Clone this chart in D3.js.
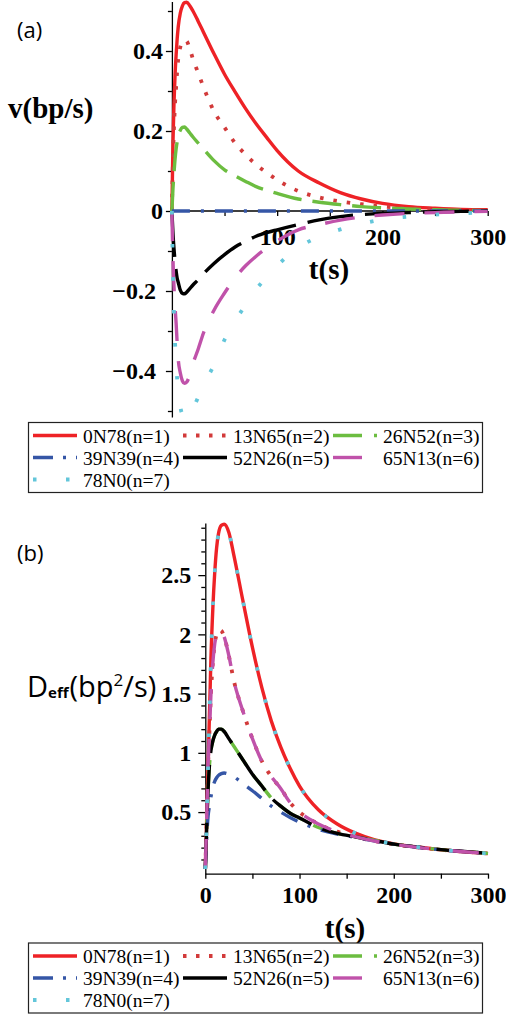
<!DOCTYPE html>
<html>
<head>
<meta charset="utf-8">
<script src="https://cdn.jsdelivr.net/npm/d3@7"></script>
<style>
  body { margin: 0; background: #fff; }
  svg { display: block; }
</style>
</head>
<body>
<script>
// sample times (s)
const times = [0, 1, 2, 3, 4, 5, 6, 8, 10, 12, 14, 17, 20, 25, 30, 40, 50, 60, 70, 80, 90, 100, 120, 140, 160, 180, 200, 225, 250, 275, 300];

const seriesNames = ["0N78(n=1)", "13N65(n=2)", "26N52(n=3)", "39N39(n=4)", "52N26(n=5)", "65N13(n=6)", "78N0(n=7)"];

// panel (a): v (bp/s)
const v1 = [0, 0.17, 0.27, 0.34, 0.39, 0.43, 0.46, 0.495, 0.513, 0.521, 0.522, 0.513, 0.5, 0.474, 0.447, 0.393, 0.342, 0.298, 0.256, 0.218, 0.184, 0.151, 0.1, 0.07, 0.046, 0.03, 0.019, 0.011, 0.007, 0.004, 0.003];
const v2 = [0, 0.13, 0.21, 0.27, 0.31, 0.35, 0.38, 0.41, 0.423, 0.427, 0.425, 0.405, 0.38, 0.345, 0.31, 0.249, 0.209, 0.17, 0.141, 0.116, 0.096, 0.078, 0.05, 0.034, 0.024, 0.017, 0.011, 0.007, 0.004, 0.002, 0.001];
const v3 = [0, 0.055, 0.095, 0.13, 0.155, 0.173, 0.187, 0.202, 0.209, 0.21, 0.205, 0.195, 0.185, 0.17, 0.155, 0.126, 0.103, 0.088, 0.074, 0.061, 0.052, 0.044, 0.03, 0.022, 0.016, 0.011, 0.008, 0.005, 0.003, 0.002, 0.001];
const v4 = [0, 0, 0, 0, 0, 0, 0, 0, 0, 0, 0, 0, 0, 0, 0, 0, 0, 0, 0, 0, 0, 0, 0, 0, 0, 0, 0, 0, 0, 0, 0];
const v5 = [0, -0.055, -0.095, -0.125, -0.15, -0.168, -0.178, -0.198, -0.206, -0.207, -0.203, -0.194, -0.185, -0.172, -0.157, -0.131, -0.109, -0.09, -0.076, -0.063, -0.054, -0.047, -0.034, -0.022, -0.014, -0.009, -0.006, -0.004, -0.002, -0.001, 0];
const v6 = [0, -0.12, -0.19, -0.24, -0.28, -0.33, -0.37, -0.405, -0.425, -0.431, -0.428, -0.41, -0.382, -0.345, -0.305, -0.248, -0.205, -0.167, -0.137, -0.113, -0.093, -0.075, -0.047, -0.034, -0.023, -0.015, -0.01, -0.006, -0.004, -0.002, -0.001];
const v7 = [0, -0.16, -0.26, -0.33, -0.38, -0.42, -0.45, -0.49, -0.51, -0.52, -0.52, -0.51, -0.495, -0.465, -0.435, -0.385, -0.322, -0.275, -0.235, -0.196, -0.166, -0.137, -0.092, -0.064, -0.046, -0.032, -0.021, -0.014, -0.009, -0.006, -0.003];

// panel (b): Deff (bp^2/s)
const d1 = [0.02, 0.3, 0.6, 0.9, 1.2, 1.5, 1.8, 2.22, 2.52, 2.73, 2.85, 2.92, 2.93, 2.86, 2.68, 2.28, 1.89, 1.55, 1.27, 1.05, 0.87, 0.72, 0.52, 0.4, 0.32, 0.265, 0.232, 0.205, 0.182, 0.165, 0.15];
const d2 = [0.02, 0.3, 0.6, 0.9, 1.1, 1.3, 1.5, 1.76, 1.92, 2.0, 2.04, 2.03, 1.98, 1.82, 1.62, 1.35, 1.12, 0.93, 0.8, 0.7, 0.58, 0.5, 0.4, 0.335, 0.29, 0.255, 0.228, 0.202, 0.182, 0.165, 0.15];
const d3v = [0.02, 0.25, 0.5, 0.7, 0.85, 0.95, 1.02, 1.1, 1.15, 1.18, 1.2, 1.2, 1.18, 1.12, 1.06, 0.94, 0.82, 0.72, 0.62, 0.55, 0.49, 0.45, 0.37, 0.32, 0.29, 0.26, 0.23, 0.205, 0.183, 0.167, 0.152];
const d4 = [0.02, 0.2, 0.36, 0.47, 0.53, 0.58, 0.63, 0.71, 0.76, 0.79, 0.81, 0.825, 0.83, 0.82, 0.8, 0.74, 0.68, 0.615, 0.55, 0.5, 0.455, 0.415, 0.355, 0.315, 0.285, 0.255, 0.23, 0.203, 0.182, 0.166, 0.152];
const d5 = [0.02, 0.25, 0.5, 0.7, 0.85, 0.95, 1.02, 1.1, 1.15, 1.18, 1.2, 1.2, 1.18, 1.12, 1.06, 0.94, 0.82, 0.72, 0.62, 0.55, 0.49, 0.45, 0.37, 0.32, 0.29, 0.26, 0.23, 0.205, 0.183, 0.167, 0.152];
const d6 = [0.02, 0.3, 0.6, 0.9, 1.1, 1.3, 1.5, 1.76, 1.92, 2.0, 2.04, 2.03, 1.98, 1.82, 1.62, 1.35, 1.12, 0.93, 0.8, 0.7, 0.58, 0.5, 0.4, 0.335, 0.29, 0.255, 0.228, 0.202, 0.182, 0.165, 0.15];
const d7 = [0.02, 0.3, 0.6, 0.9, 1.2, 1.5, 1.8, 2.22, 2.52, 2.73, 2.85, 2.92, 2.93, 2.86, 2.68, 2.28, 1.89, 1.55, 1.27, 1.05, 0.87, 0.72, 0.52, 0.4, 0.32, 0.265, 0.232, 0.205, 0.182, 0.165, 0.15];

const vSeries = [v1, v2, v3, v4, v5, v6, v7];
const dSeries = [d1, d2, d3v, d4, d5, d6, d7];

// ticks
const tTicks = [100, 200, 300];
const tMinor = [50, 100, 150, 200, 250, 300];
const vTicks = [-0.4, -0.2, 0, 0.2, 0.4];
const vMinor = [-0.5, -0.3, -0.1, 0.1, 0.3, 0.5];
const dTicks = [0.5, 1, 1.5, 2, 2.5];
const dMinor = [0.1, 0.2, 0.3, 0.4, 0.6, 0.7, 0.8, 0.9, 1.1, 1.2, 1.3, 1.4, 1.6, 1.7, 1.8, 1.9, 2.1, 2.2, 2.3, 2.4, 2.6, 2.7, 2.8, 2.9];

// line styles
const colors = ["#ee2226", "#d23a3a", "#6cbd40", "#3556a6", "#000000", "#c052aa", "#63c6da"];
const widths = [3.4, 3.8, 3.4, 3.4, 3.4, 3.4, 3.8];
const dashes = [null, "3.5,10", "29,11", "18,11,3,11", "46,12", "30,20", "3.5,29.5"];
const legendDashes = [null, "3.5,9.5", "29,12", "20,10,3,10", null, "29,20", "3.5,29.5"];

const width = 506, height = 1016;
const serif = "'Liberation Serif', 'Times New Roman', serif";
const sans = "'Open Sans', 'Noto Sans', sans-serif";

const svg = d3.select("body").append("svg")
  .attr("width", width)
  .attr("height", height);

// ---------- panel (a) ----------
const xa = d3.scaleLinear().domain([0, 300]).range([171.9, 487.7]);
const ya = d3.scaleLinear().domain([-0.515, 0.524]).range([417, 1.4]);

svg.append("defs").append("clipPath").attr("id", "clipA")
  .append("rect").attr("x", 160).attr("y", 0).attr("width", 340).attr("height", 417);

// y axis (a)
const gya = svg.append("g").attr("transform", `translate(${xa(0)},0)`);
gya.call(d3.axisLeft(ya).tickValues(vTicks).tickSize(6).tickSizeOuter(0).tickPadding(3)
  .tickFormat(d => d === 0 ? "0" : (d < 0 ? "\u2212" + d3.format(".1f")(-d) : d3.format(".1f")(d))));
gya.append("g").call(d3.axisLeft(ya).tickValues(vMinor).tickSize(4).tickFormat(""))
  .select(".domain").remove();
gya.selectAll(".tick text").filter(d => d < 0).attr("x", -16);

// x axis (a) at v = 0
const gxa = svg.append("g").attr("transform", `translate(0,${ya(0)})`);
gxa.call(d3.axisBottom(xa).tickValues(tMinor).tickSize(5).tickSizeOuter(0).tickPadding(12)
  .tickFormat(d => tTicks.includes(d) ? d : ""));
gxa.select(".domain").attr("d", `M${xa(0)},0H${xa(300)}`);

// ---------- panel (b) ----------
const xb = d3.scaleLinear().domain([0, 300]).range([205.3, 488]);
const yb = d3.scaleLinear().domain([-0.02, 2.94]).range([873.7, 523]);

const gyb = svg.append("g").attr("transform", `translate(${xb(0)},0)`);
gyb.call(d3.axisLeft(yb).tickValues(dTicks).tickSize(7).tickSizeOuter(0).tickPadding(7)
  .tickFormat(d => String(d)));
gyb.append("g").call(d3.axisLeft(yb).tickValues(dMinor).tickSize(4).tickFormat(""))
  .select(".domain").remove();

const gxb = svg.append("g").attr("transform", `translate(0,${yb(-0.02)})`);
gxb.call(d3.axisBottom(xb).tickValues([0, ...tMinor]).tickSize(5).tickSizeOuter(0).tickPadding(7)
  .tickFormat(d => (d === 0 || tTicks.includes(d)) ? d : ""));

// axis styling
svg.selectAll(".domain, .tick line").attr("stroke", "#000").attr("stroke-width", 1.3);
svg.selectAll(".tick text")
  .attr("font-family", serif)
  .attr("font-weight", "bold")
  .attr("font-size", 24)
  .attr("fill", "#000");

// ---------- curves ----------
function drawCurves(series, x, y, clip) {
  const g = svg.append("g");
  if (clip) g.attr("clip-path", `url(#${clip})`);
  series.forEach((vals, i) => {
    const line = d3.line()
      .x((d, k) => x(times[k]))
      .y(d => y(d))
      .curve(d3.curveMonotoneX);
    g.append("path")
      .datum(vals)
      .attr("d", line)
      .attr("fill", "none")
      .attr("stroke", colors[i])
      .attr("stroke-width", widths[i])
      .attr("stroke-dasharray", dashes[i]);
  });
}
drawCurves(vSeries, xa, ya, "clipA");
drawCurves(dSeries, xb, yb, null);

// ---------- labels ----------
svg.append("text").attr("x", 17).attr("y", 38)
  .attr("font-family", sans).attr("font-size", 22).text("(a)");
svg.append("text").attr("x", 17).attr("y", 561)
  .attr("font-family", sans).attr("font-size", 22).text("(b)");

svg.append("text").attr("x", 8).attr("y", 118)
  .attr("font-family", serif).attr("font-weight", "bold").attr("font-size", 29)
  .text("v(bp/s)");
svg.append("text").attr("x", 329).attr("y", 279)
  .attr("text-anchor", "middle")
  .attr("font-family", serif).attr("font-weight", "bold").attr("font-size", 29)
  .text("t(s)");
svg.append("text").attr("x", 345).attr("y", 938)
  .attr("text-anchor", "middle")
  .attr("font-family", serif).attr("font-weight", "bold").attr("font-size", 29)
  .text("t(s)");

const dl = svg.append("text").attr("x", 27).attr("y", 697)
  .attr("font-family", sans).attr("font-size", 29).attr("fill", "#000");
dl.append("tspan").text("D");
dl.append("tspan").attr("font-size", 15).attr("font-weight", 700).attr("dy", 1).text("eff");
dl.append("tspan").attr("dy", -1).attr("dx", 1).text("(bp");
dl.append("tspan").attr("font-size", 17).attr("dy", -11).text("2");
dl.append("tspan").attr("dy", 11).text("/s)");

// ---------- legends ----------
function drawLegend(top) {
  const g = svg.append("g").attr("transform", `translate(0,${top})`);
  g.append("rect")
    .attr("x", 28.5).attr("y", 0).attr("width", 454).attr("height", 70)
    .attr("fill", "#fff").attr("stroke", "#222").attr("stroke-width", 1.2);
  const colX = [33, 183, 333];
  const rowY = [13, 35, 57];
  seriesNames.forEach((name, i) => {
    const cx = colX[i % 3], cy = rowY[Math.floor(i / 3)];
    g.append("line")
      .attr("x1", cx).attr("x2", cx + 44)
      .attr("y1", cy).attr("y2", cy)
      .attr("stroke", colors[i])
      .attr("stroke-width", widths[i])
      .attr("stroke-dasharray", legendDashes[i]);
    g.append("text")
      .attr("x", cx + 50).attr("y", cy + 7)
      .attr("font-family", serif).attr("font-size", 19.5)
      .text(name);
  });
}
drawLegend(422.5);
drawLegend(943);
</script>
</body>
</html>
